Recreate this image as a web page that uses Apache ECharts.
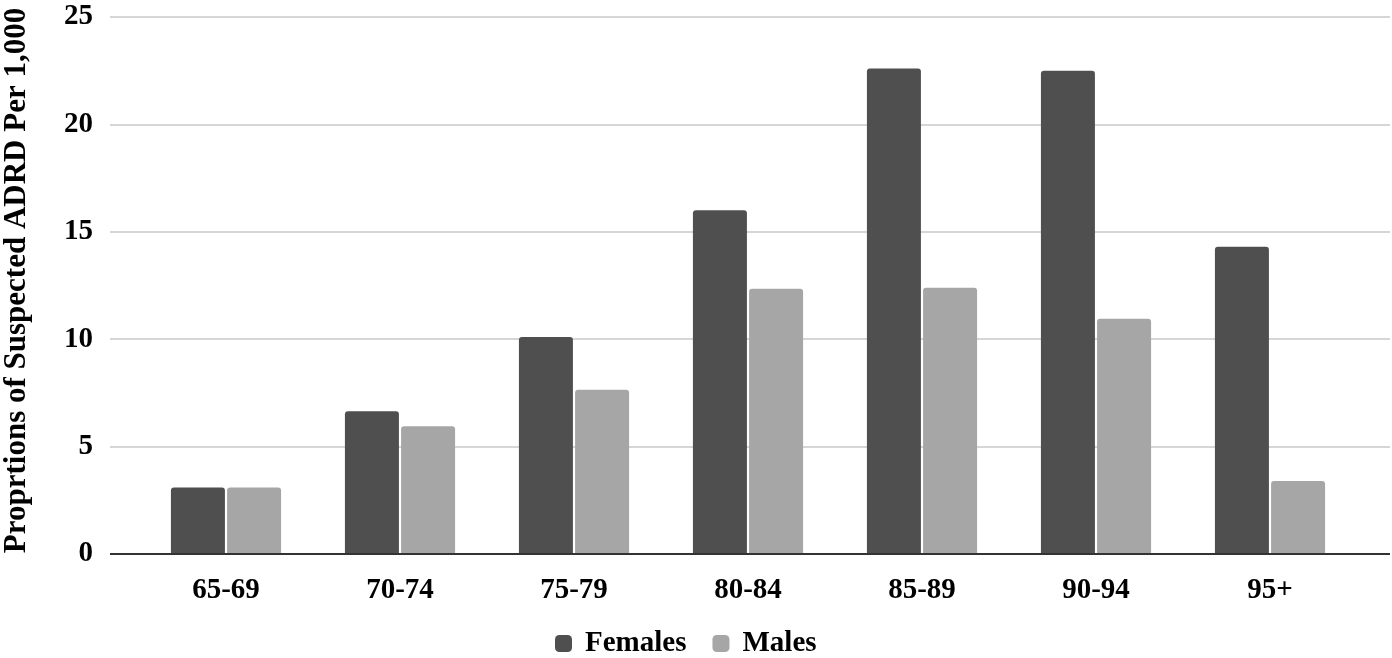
<!DOCTYPE html>
<html><head><meta charset="utf-8">
<script src="https://cdn.jsdelivr.net/npm/echarts@6/dist/echarts.min.js"></script>
<style>html,body{margin:0;padding:0;background:#fff}#c{width:1392px;height:658px}</style>
</head><body><div id="c"></div>
<script>
const categories = ['65-69','70-74','75-79','80-84','85-89','90-94','95+'];
const females = [3.1, 6.65, 10.1, 16.0, 22.6, 22.5, 14.3];
const males = [3.1, 5.95, 7.65, 12.35, 12.4, 10.95, 3.4];
const seriesNames = ['Females','Males'];
const yTicks = [0, 5, 10, 15, 20, 25];

const FONT = '"Liberation Serif", "Times New Roman", serif';
const chart = echarts.init(document.getElementById('c'));
chart.setOption({
  animation: false,
  textStyle: {fontFamily: FONT},
  legend: {
    data: seriesNames, top: 624, left: 550,
    itemWidth: 17, itemHeight: 17, itemGap: 26,
    icon: 'roundRect',
    textStyle: {fontFamily: FONT, fontWeight: 'bold', fontSize: 29, color: '#000', padding: [0,0,0,8]}
  },
  grid: [
    {left: 110, right: 2, top: 17, bottom: 104, containLabel: false, outerBoundsMode: 'none'},
    {left: 139, right: 35, top: 17, bottom: 104, containLabel: false, outerBoundsMode: 'none'}
  ],
  xAxis: [
    {type: 'category', gridIndex: 0, data: categories, show: false},
    {type: 'category', gridIndex: 1, data: categories,
     axisLine: {show: false}, axisTick: {show: false},
     axisLabel: {fontFamily: FONT, fontWeight: 'bold', fontSize: 29, color: '#000', margin: 22}}
  ],
  yAxis: [
    {type: 'value', gridIndex: 0, min: yTicks[0], max: yTicks[yTicks.length-1], interval: 5,
     name: 'Proprtions of Suspected ADRD Per 1,000', nameLocation: 'middle', nameGap: 78,
     nameTextStyle: {fontFamily: FONT, fontWeight: 'bold', fontSize: 31, color: '#000', padding: [0,0,0,10]},
     axisLine: {show: false},
     axisTick: {show: false},
     axisLabel: {fontFamily: FONT, fontWeight: 'bold', fontSize: 29, color: '#000', margin: 17},
     splitLine: {lineStyle: {color: '#c8c8c8', width: 1.5}}
    },
    {type: 'value', gridIndex: 1, min: 0, max: 25, interval: 5, show: false, splitLine: {show: false}}
  ],
  series: [
    {name: seriesNames[0], type: 'bar', xAxisIndex: 1, yAxisIndex: 1, data: females,
     barWidth: 54, barGap: '4%', itemStyle: {color: '#4f4f4f', borderRadius: [3,3,0,0]}},
    {name: seriesNames[1], type: 'bar', xAxisIndex: 1, yAxisIndex: 1, data: males,
     barWidth: 54, barGap: '4%', itemStyle: {color: '#a6a6a6', borderRadius: [3,3,0,0]}},
    {type: 'line', xAxisIndex: 0, yAxisIndex: 0, data: [], silent: true,
     markLine: {symbol: 'none', silent: true, label: {show: false},
       lineStyle: {color: '#333', width: 2, type: 'solid'}, data: [{yAxis: 0}]}}
  ]
});
</script></body></html>
